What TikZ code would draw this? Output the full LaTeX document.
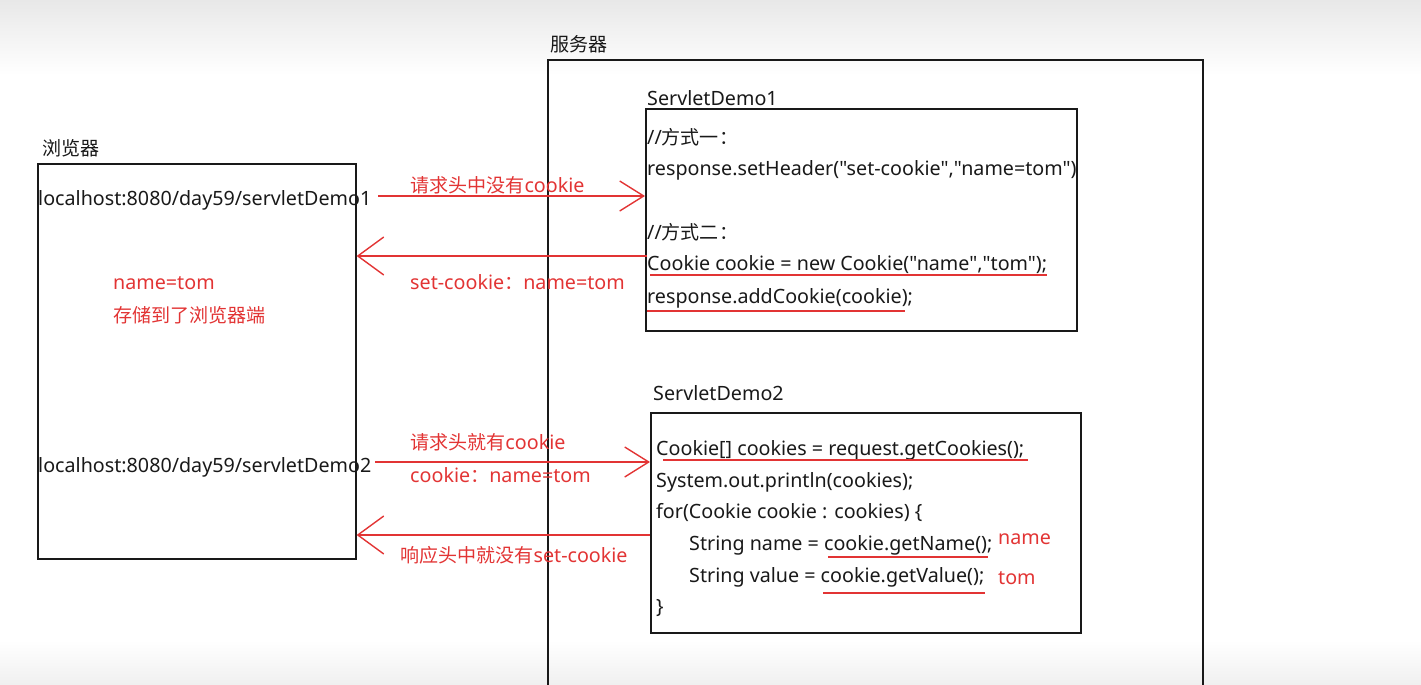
\documentclass[tikz,border=0pt]{standalone}
\usepackage{fontspec}
\newfontfamily\uifont{Noto Sans}[Scale=1.065]
\newfontfamily\cjk{Noto Sans CJK SC}[Scale=1.03]
\usetikzlibrary{arrows.meta}
\definecolor{penred}{RGB}{226,52,52}
\definecolor{inkblack}{RGB}{25,25,25}

\begin{document}
\begin{tikzpicture}[x=1pt, y=-1pt,
    txt/.style={anchor=base west, inner sep=0pt, font=\uifont\fontsize{18.5}{22}\selectfont, text=inkblack},
    redtxt/.style={txt, text=penred},
    frame/.style={draw=inkblack, line width=1.6pt, rectangle, anchor=north west, inner sep=0pt},
    flow/.style={draw=penred, line width=1.4pt, -{Straight Barb[length=24pt, width=30pt, line width=1.4pt]}},
    backflow/.style={flow, -{Straight Barb[length=26pt, width=38pt, line width=1.4pt]}},
    uline/.style={draw=penred, line width=1.4pt}
]
\useasboundingbox (0,0) rectangle (1421,685);
% Hintergrund (Bildschirmverlauf)
\shade[top color=black!9, bottom color=white] (0,0) rectangle (1421,75);
\shade[top color=white, bottom color=black!6] (0,640) rectangle (1421,685);

% Server
\node[txt] (srvlbl) at (550,52) {\cjk 服务器};
\draw[draw=inkblack, line width=1.6pt] (548,685) |- (1203,60) -- (1203,685);

% Browser
\node[txt] (brwlbl) at (42,155) {\cjk 浏览器};
\node[frame, minimum width=318pt, minimum height=395pt] (browser) at (37,163) {};
\node[txt] (url1) at (38,205) {localhost:8080/day59/servletDemo1};
\node[redtxt] (stored1) at (113,289) {name=tom};
\node[redtxt] (stored2) at (113,322) {\cjk 存储到了浏览器端};
\node[txt] (url2) at (38,472) {localhost:8080/day59/servletDemo2};

% ServletDemo1
\node[txt] (d1lbl) at (647,105) {ServletDemo1};
\node[frame, minimum width=431pt, minimum height=222pt] (demo1) at (645,108) {};
\node[txt] (d1a) at (647,144) {//{\cjk 方式一：}};
\node[txt] (d1b) at (647,175) {response.setHeader("set-cookie","name=tom")};
\node[txt] (d1c) at (647,239) {//{\cjk 方式二：}};
\node[txt] (d1d) at (647,270) {Cookie cookie = new Cookie("name","tom");};
\node[txt] (d1e) at (647,303) {response.addCookie(cookie);};
\draw[uline] (650,275) -- (1047,275);
\draw[uline] (647,311) -- (905,311);

% ServletDemo2
\node[txt] (d2lbl) at (653,400) {ServletDemo2};
\node[frame, minimum width=430pt, minimum height=220pt] (demo2) at (650,412) {};
\node[txt] (d2a) at (656,455) {Cookie[] cookies = request.getCookies();};
\node[txt] (d2b) at (656,487) {System.out.println(cookies);};
\node[txt] (d2c) at (656,518) {for(Cookie cookie : cookies) \{};
\node[txt] (d2d) at (689,550) {String name = cookie.getName();};
\node[txt] (d2e) at (689,582) {String value = cookie.getValue();};
\node[txt] (d2f) at (656,613) {\}};
\node[redtxt] (valname) at (998,544) {name};
\node[redtxt] (valtom) at (998,584) {tom};
\draw[uline] (663,460) -- (1028,460);
\draw[uline] (828,557) -- (988,557);
\draw[uline] (823,593) -- (985,593);

% Pfeile
\coordinate (req1) at (378,196);
\coordinate (resp1) at (647,256);
\coordinate (req2) at (375,462);
\coordinate (resp2) at (650,535);
\draw[flow] (req1) -- (demo1.west |- req1);
\draw[backflow] (resp1) -- (browser.east |- resp1);
\draw[flow] (req2) -- (demo2.west |- req2);
\draw[backflow] (resp2) -- (browser.east |- resp2);

% Pfeilbeschriftungen
\node[redtxt] (req1lbl) at (410,192) {{\cjk 请求头中没有}cookie};
\node[redtxt] (resp1lbl) at (410,289) {set-cookie{\cjk ：}name=tom};
\node[redtxt] (req2lbl) at (410,449) {{\cjk 请求头就有}cookie};
\node[redtxt] (req2val) at (410,482) {cookie{\cjk ：}name=tom};
\node[redtxt] (resp2lbl) at (400,562) {{\cjk 响应头中就没有}set-cookie};
\end{tikzpicture}
\end{document}
